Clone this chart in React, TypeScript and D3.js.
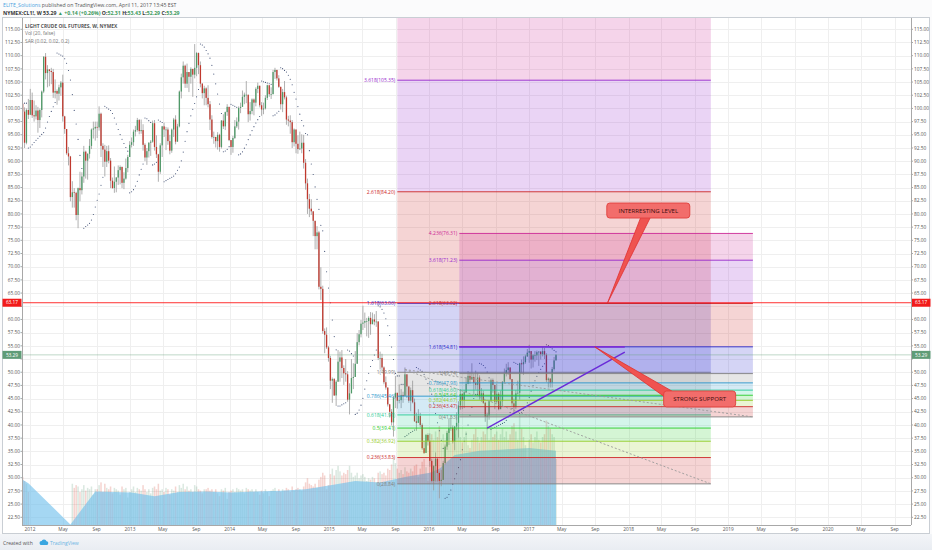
import React from 'react'
import * as d3 from 'd3'

// weekly bars of NYMEX:CL1!, first bar = week of 2011-12-05
const firstWeek = '2011-12-05'
const firstOpen = 100.9

const weeklyClose = [
  99.4, 93.5, 99.7, 98.8,
  // 2012
  101.6, 98.7, 98.5, 99.6, 97.8, 99.7, 103.2, 109.8, 106.7, 107.4, 107.1, 106.9, 103.0,
  103.3, 102.8, 104.0, 104.9, 98.5, 96.1, 91.5, 90.9, 83.2, 84.1, 84.0, 79.8, 84.9,
  84.5, 87.1, 91.8, 90.1, 91.4, 92.9, 96.0, 96.2, 96.5, 96.4, 99.0, 92.9, 92.2,
  89.9, 91.9, 90.1, 86.3, 84.9, 86.1, 86.9, 88.3, 88.9, 85.9, 86.7, 88.7, 90.8, 93.1,
  // 2013
  93.6, 95.6, 95.9, 97.8, 95.7, 95.9, 93.1, 90.7, 91.9, 93.5, 93.7, 97.2,
  92.7, 91.3, 88.0, 93.0, 96.6, 96.0, 96.0, 93.8, 92.0, 96.0, 97.9, 93.7, 96.6,
  103.2, 105.9, 108.1, 104.7, 106.9, 106.0, 107.5, 106.4, 107.7, 110.5, 108.2, 104.7, 102.9, 103.8,
  102.0, 100.8, 97.9, 94.6, 94.6, 93.8, 95.0, 92.7, 97.7, 96.6, 99.3, 100.3, 94.0,
  // 2014
  92.7, 94.4, 96.6, 97.5, 100.1, 100.3, 102.2, 102.6, 102.6, 98.9, 99.5, 101.7, 101.1,
  103.7, 104.3, 100.6, 99.8, 100.0, 102.0, 104.4, 102.7, 102.7, 106.9, 107.3, 105.7, 104.1,
  100.8, 103.1, 102.1, 97.9, 97.7, 97.4, 93.6, 96.0, 93.3, 92.3, 92.4, 93.5, 89.7,
  85.8, 82.8, 81.0, 80.5, 78.7, 75.8, 76.5, 66.2, 65.8, 57.8, 57.1, 54.7, 52.7,
  // 2015
  48.4, 48.7, 45.6, 48.2, 52.0, 52.8, 50.8, 49.8, 49.6, 44.8, 46.0, 48.9, 49.1,
  51.6, 55.7, 57.2, 59.2, 59.4, 59.7, 59.7, 60.3, 59.1, 60.0, 59.6, 59.6, 52.7,
  52.7, 50.9, 48.1, 47.1, 43.9, 42.5, 40.5, 45.2, 46.1, 44.6, 44.7, 45.7, 45.5,
  49.6, 47.3, 44.6, 46.6, 44.3, 40.7, 40.4, 41.7, 40.0, 35.6, 34.7, 38.1, 37.0,
  // 2016
  33.2, 29.4, 32.2, 33.6, 30.9, 29.4, 29.6, 32.8, 35.9, 38.5, 39.4, 39.5, 36.8,
  39.7, 40.4, 43.7, 45.9, 44.7, 46.2, 47.8, 49.3, 48.6, 49.1, 48.0, 47.6, 49.0,
  45.4, 46.0, 44.2, 41.6, 41.8, 44.5, 48.5, 47.6, 44.4, 45.9, 43.0, 44.5, 48.2,
  49.8, 50.4, 50.9, 48.7, 44.1, 43.4, 46.0, 46.1, 51.7, 51.5, 51.9, 53.0, 53.7,
  // 2017
  54.0, 52.4, 53.2, 53.2, 53.8, 53.9, 53.4, 54.0, 53.3, 48.5, 48.8, 48.0, 50.6, 52.24, 53.29,
]

const weeklyHigh = [
  101.0, 100.2, 100.0, 101.8,
  103.7, 103.0, 101.5, 100.6, 100.3, 100.0, 103.4, 109.9, 110.5, 108.2, 107.4, 107.7, 107.5,
  105.5, 103.6, 104.5, 105.2, 106.4, 98.6, 96.1, 92.7, 91.0, 86.2, 84.9, 84.2, 85.0,
  88.0, 87.9, 92.9, 92.0, 91.5, 94.2, 96.2, 97.5, 97.5, 97.5, 100.4, 99.2, 93.4,
  93.1, 92.9, 93.0, 90.6, 86.9, 89.0, 87.0, 89.2, 89.2, 89.0, 87.9, 90.5, 91.2, 93.8,
  94.5, 96.0, 96.7, 98.2, 98.0, 97.9, 97.0, 93.4, 92.5, 93.6, 94.0, 97.7,
  97.8, 94.9, 91.4, 93.4, 96.7, 97.3, 96.5, 96.4, 95.0, 96.2, 98.2, 98.7, 97.1,
  103.4, 106.6, 108.9, 108.3, 108.5, 106.9, 107.8, 107.0, 112.2, 110.7, 110.6, 108.9, 104.8, 104.3,
  104.0, 104.4, 101.4, 98.7, 95.6, 94.6, 95.5, 95.2, 97.8, 98.9, 99.4, 100.8, 100.3,
  94.0, 94.8, 97.8, 98.3, 100.4, 101.1, 103.4, 103.0, 105.2, 102.1, 101.2, 101.9, 101.9,
  104.0, 104.9, 104.3, 101.2, 101.1, 102.5, 104.5, 104.4, 104.0, 107.3, 107.7, 107.3, 106.3,
  104.1, 103.7, 105.2, 102.4, 98.6, 98.7, 97.8, 96.2, 96.0, 94.9, 95.6, 95.1, 95.0,
  90.4, 86.7, 83.8, 82.8, 80.0, 78.5, 77.7, 76.8, 69.9, 66.4, 58.3, 58.5, 55.0,
  53.1, 49.0, 48.9, 48.5, 54.2, 53.9, 54.2, 51.3, 52.5, 50.2, 47.9, 52.5, 51.7,
  54.0, 57.4, 58.0, 59.9, 62.6, 61.3, 60.3, 60.6, 61.4, 61.3, 61.0, 61.6, 59.7,
  53.9, 53.5, 51.1, 49.2, 46.9, 44.0, 43.0, 45.5, 49.3, 46.1, 47.7, 46.8, 46.3,
  50.9, 49.4, 47.3, 47.1, 48.4, 45.0, 42.3, 43.0, 42.3, 40.3, 37.0, 38.3, 38.4,
  38.4, 33.6, 32.4, 34.8, 33.7, 31.2, 31.5, 33.2, 36.3, 38.9, 41.2, 41.6, 39.9,
  39.8, 42.4, 44.5, 46.8, 46.0, 46.6, 49.0, 50.2, 50.0, 51.7, 49.7, 50.3, 49.9,
  49.4, 47.0, 46.5, 44.4, 42.3, 44.7, 48.8, 48.8, 47.6, 47.8, 46.2, 46.5, 48.3,
  50.7, 51.6, 51.9, 50.9, 48.6, 45.0, 46.6, 48.4, 51.8, 52.4, 53.0, 53.3, 54.4,
  55.2, 53.5, 53.4, 54.0, 54.1, 54.0, 54.0, 54.9, 54.6, 53.6, 49.0, 48.8, 51.0, 52.9, 53.43,
]

const weeklyLow = [
  97.5, 92.5, 93.2, 98.0,
  98.8, 98.2, 97.5, 97.9, 95.4, 96.3, 98.3, 102.9, 105.5, 104.0, 104.2, 104.6, 102.0,
  101.9, 100.7, 101.5, 102.4, 97.5, 95.2, 91.2, 89.2, 82.4, 81.2, 81.2, 78.8, 77.3,
  82.4, 83.7, 85.9, 86.7, 86.5, 90.5, 92.3, 94.3, 93.9, 94.4, 95.8, 90.8, 88.9,
  87.1, 88.9, 89.6, 84.9, 84.8, 84.0, 84.1, 85.5, 85.6, 84.9, 84.7, 86.5, 87.9, 90.8,
  92.6, 92.9, 94.7, 95.6, 95.1, 95.2, 92.0, 90.0, 89.3, 90.7, 91.0, 93.5,
  92.0, 90.6, 86.1, 87.6, 90.8, 94.6, 92.1, 93.1, 91.3, 91.6, 94.6, 93.2, 93.8,
  96.4, 101.9, 104.7, 103.9, 103.9, 103.1, 104.7, 102.2, 105.7, 106.1, 106.5, 104.0, 101.9, 100.6,
  100.6, 100.2, 95.9, 94.3, 93.3, 92.6, 92.2, 91.8, 92.4, 96.1, 95.9, 98.6, 93.8,
  91.2, 91.6, 94.2, 96.3, 96.0, 99.1, 100.6, 100.8, 101.0, 97.4, 97.7, 98.9, 98.7,
  100.4, 102.9, 100.2, 98.6, 98.9, 99.8, 101.6, 102.2, 101.8, 103.9, 105.6, 105.3, 103.9,
  99.8, 99.3, 101.7, 96.9, 96.6, 95.2, 92.5, 92.8, 91.5, 91.4, 92.1, 91.5, 88.6,
  84.6, 80.0, 79.4, 79.8, 75.8, 73.3, 73.3, 65.7, 63.7, 57.3, 53.6, 54.4, 52.0,
  46.8, 44.2, 45.5, 43.6, 48.4, 48.2, 48.9, 47.6, 48.2, 44.4, 42.0, 46.9, 46.8,
  49.6, 51.6, 55.1, 56.6, 58.0, 58.4, 56.8, 56.5, 57.1, 59.3, 58.9, 58.6, 52.3,
  50.5, 50.3, 47.7, 46.7, 43.5, 41.4, 39.9, 37.8, 43.2, 43.1, 44.1, 43.2, 44.2,
  45.6, 45.1, 44.2, 42.6, 44.1, 40.6, 38.9, 40.4, 39.6, 35.3, 34.5, 35.4, 36.1,
  32.1, 29.1, 27.6, 29.3, 29.3, 26.1, 28.4, 30.6, 32.5, 35.3, 36.2, 38.9, 36.5,
  35.2, 39.0, 37.6, 42.9, 43.0, 43.2, 46.2, 47.7, 47.8, 48.6, 45.8, 46.7, 45.8,
  44.8, 44.4, 44.0, 40.6, 39.2, 41.0, 44.4, 46.1, 43.0, 44.1, 42.8, 43.5, 43.6,
  47.9, 49.2, 49.5, 48.5, 43.6, 42.2, 43.0, 45.8, 44.8, 49.9, 49.5, 51.6, 52.9,
  51.8, 50.7, 50.9, 52.0, 52.3, 51.2, 52.4, 53.0, 52.5, 48.1, 47.1, 47.1, 47.1, 50.3, 52.29,
]

// weekly volume, millions of contracts (no data Jan-May 2012)
const weeklyVolume = [
  1.75, 1.6, 1.5, 1.2,
  0, 0, 0, 0, 0, 0, 0, 0, 0, 0, 0, 0, 0, 0, 0, 0, 0, 0, 0, 0, 0, 0,
  1.5, 1.35, 1.45, 1.4, 1.2, 1.3, 1.45, 1.25, 1.35, 1.3, 1.4, 1.1, 1.3, 1.3, 1.45, 1.55, 1.2,
  1.5, 1.35, 1.3, 1.4, 1.15, 1.35, 1.3, 1.25, 1.1, 1.4, 1.3, 1.35, 1.0, 1.2,
  1.3, 1.4, 1.2, 1.35, 1.3, 1.25, 1.45, 1.3, 1.2, 1.3, 1.15, 1.35, 1.4, 1.3, 1.5, 1.25, 1.3,
  1.2, 1.35, 1.3, 1.1, 1.3, 1.25, 1.4, 1.2, 1.45, 1.35, 1.5, 1.3, 1.4, 1.25, 1.3, 1.2, 1.45,
  1.4, 1.3, 1.25, 1.15, 1.3, 1.3, 1.35, 1.25, 1.3, 1.2, 1.3, 1.15, 1.05, 1.3, 1.25, 1.35, 0.95, 1.2,
  1.25, 1.3, 1.2, 1.35, 1.3, 1.25, 1.3, 1.15, 1.35, 1.3, 1.25, 1.3, 1.2, 1.3, 1.2, 1.1, 1.25,
  1.15, 1.3, 1.2, 1.05, 1.25, 1.3, 1.35, 1.2, 1.3, 1.2, 1.3, 1.25, 1.35, 1.3, 1.2, 1.4, 1.25,
  1.3, 1.35, 1.3, 1.25, 1.4, 1.55, 1.7, 1.5, 1.45, 1.4, 1.5, 1.35, 1.65, 1.75, 1.9, 1.8, 1.3, 1.45,
  1.85, 2.05, 1.8, 2.0, 2.15, 1.95, 1.8, 1.9, 1.85, 2.0, 2.15, 1.9, 1.75, 1.8, 1.9, 1.7, 1.8,
  1.85, 1.75, 1.6, 1.7, 1.65, 1.75, 1.7, 1.55, 1.9, 1.95, 1.85, 1.9, 1.8, 2.05, 2.0, 2.2, 2.45, 2.25,
  2.05, 1.9, 2.0, 1.85, 2.1, 1.95, 1.9, 2.05, 1.95, 2.15, 2.2, 1.75, 2.05, 2.3, 2.4, 2.1, 1.6,
  2.9, 3.3, 3.1, 3.4, 3.2, 3.6, 3.0, 3.3, 3.1, 3.2, 3.4, 3.0, 3.1, 3.3, 3.5, 3.7, 3.2,
  3.0, 3.2, 3.4, 2.9, 2.8, 3.1, 3.3, 3.5, 3.2, 3.0, 3.2, 3.4, 3.3, 3.5, 3.1, 3.6, 3.2, 3.3,
  3.4, 3.1, 3.3, 3.5, 3.2, 3.4, 3.1, 3.3, 3.6, 3.7, 3.4, 3.1, 4.0, 3.5, 3.2, 2.9, 2.4,
  3.1, 3.3, 3.0, 3.2, 3.4, 3.1, 3.0, 3.2, 3.3, 3.8, 3.6, 3.5, 3.3, 3.2, 2.4,
]

// shaded volume average as drawn on the chart
const volMaDates = [
  '2011-12-05', '2011-12-26', '2012-05-28', '2012-08-27', '2012-11-05', '2013-01-07', '2013-04-01',
  '2013-07-01', '2013-10-07', '2014-01-06', '2014-04-07', '2014-07-07', '2014-10-06', '2015-01-05',
  '2015-04-06', '2015-07-06', '2015-10-05', '2016-01-04', '2016-02-08', '2016-04-04', '2016-07-04',
  '2016-10-03', '2017-01-02', '2017-04-10',
]
const volMaValues = [
  1.65, 1.52, 0.02, 1.22, 1.2, 1.18, 1.05, 1.2, 1.22, 1.18, 1.22, 1.25, 1.3, 1.45,
  1.6, 1.55, 1.75, 1.9, 2.05, 2.55, 2.7, 2.75, 2.8, 2.7,
]

const fibLevels = [0, 0.236, 0.382, 0.5, 0.618, 0.786, 1, 1.618, 2.618, 3.618, 4.236]
const fibColors = ['#808080', '#cc2828', '#95cc28', '#28cc28', '#28cc95', '#2895cc', '#808080', '#2828cc', '#cc2828', '#9528cc', '#cc2895']

const fibTools = [
  { from: '2015-09-07', to: '2018-10-29', low: 28.838, high: 49.986 },
  { from: '2016-04-21', to: '2019-04-01', low: 41.53, high: 49.74 },
]

const redLevel = 63.17
const lastPrice = 53.29

const trendLines = [
  { d1: '2015-10-05', p1: 50.5, d2: '2019-04-01', p2: 41.53, color: '#9a9a9a', width: 0.9, dash: '2,2' },
  { d1: '2015-10-05', p1: 50.5, d2: '2018-10-29', p2: 28.84, color: '#9a9a9a', width: 0.9, dash: '2,2' },
  { d1: '2016-08-01', p1: 39.4, d2: '2017-12-18', p2: 53.8, color: '#6a2bd8', width: 1.4, dash: '' },
  { d1: '2016-04-21', p1: 54.81, d2: '2017-12-18', p2: 54.81, color: '#7a2ed6', width: 1.8, dash: '' },
]

const callouts = [
  { text: 'INTERRESTING LEVEL', date: '2018-03-14', price: 80.65, w: 83, h: 15, tipDate: '2017-10-16', tipPrice: 63.17, bx: -2, by: 5 },
  { text: 'STRONG SUPPORT', date: '2018-09-18', price: 44.93, w: 72, h: 16, tipDate: '2017-08-30', tipPrice: 54.81, bx: -30, by: -4 },
]

const tickYears = [2012, 2013, 2014, 2015, 2016, 2017, 2018, 2019, 2020]
const tickMonths = [0, 4, 8]
const monthNames = ['Jan', 'May', 'Sep']

const font = "'Open Sans', 'Liberation Sans', sans-serif"
const plot = { left: 22, right: 911, top: 18, bottom: 525 }

function parabolicSar(high: number[], low: number[], step = 0.02, max = 0.2) {
  const out: (number | null)[] = [null]
  let up = true
  let af = step
  let ep = high[0]
  let sar = low[0]
  for (let i = 1; i < high.length; i++) {
    sar = sar + af * (ep - sar)
    if (up) {
      sar = Math.min(sar, low[i - 1], i > 1 ? low[i - 2] : low[i - 1])
      if (low[i] < sar) {
        up = false; sar = ep; ep = low[i]; af = step
      } else if (high[i] > ep) {
        ep = high[i]; af = Math.min(af + step, max)
      }
    } else {
      sar = Math.max(sar, high[i - 1], i > 1 ? high[i - 2] : high[i - 1])
      if (high[i] > sar) {
        up = true; sar = ep; ep = high[i]; af = step
      } else if (low[i] < ep) {
        ep = low[i]; af = Math.min(af + step, max)
      }
    }
    out.push(sar)
  }
  return out
}

export default function App() {
  const parse = d3.timeParse('%Y-%m-%d')
  const start = parse(firstWeek) as Date
  const x = d3.scaleTime().domain([parse('2012-01-01') as Date, parse('2020-01-01') as Date]).range([30, 828])
  const y = d3.scaleLinear().domain([22.5, 115]).range([517.3, 29.3])
  const yVol = d3.scaleLinear().domain([0, 1]).range([plot.bottom, plot.bottom - 27.5])
  const fmt = d3.format('.2f')

  const n = Math.min(weeklyClose.length, weeklyHigh.length, weeklyLow.length)
  const bars = d3.range(n).map((i) => {
    const c = weeklyClose[i]
    const o = i === 0 ? firstOpen : weeklyClose[i - 1]
    return {
      date: d3.timeDay.offset(start, 7 * i),
      o,
      c,
      h: Math.max(weeklyHigh[i], o, c),
      l: Math.min(weeklyLow[i], o, c),
      v: weeklyVolume[i] || 0,
    }
  })
  const sar = parabolicSar(bars.map((b) => b.h), bars.map((b) => b.l))

  const volArea = d3.area<number>()
    .x((_, i) => x(parse(volMaDates[i]) as Date))
    .y0(plot.bottom)
    .y1((v) => yVol(v))

  const tags = [{ p: redLevel, col: '#f21b1b' }, { p: lastPrice, col: '#5f9c77' }]
  const priceTicks = d3.range(22.5, 115.01, 2.5)
  // axis labels hidden behind the price tags
  const axisTicks = priceTicks.filter((p) => tags.every((t) => Math.abs(y(p) - y(t.p)) > 7))
  const timeTicks = tickYears.flatMap((yr) => tickMonths.map((m, k) => ({
    date: new Date(yr, m, 1),
    label: m === 0 ? String(yr) : monthNames[k],
  }))).filter((t) => x(t.date) < plot.right - 5)

  const upColor = '#4f9a68'
  const downColor = '#c0392e'

  return (
    <svg width={932} height={550} style={{ position: 'absolute', left: 0, top: 0 }} fontFamily={font}>
      <defs>
        <clipPath id="plotClip">
          <rect x={plot.left} y={plot.top} width={plot.right - plot.left} height={plot.bottom - plot.top} />
        </clipPath>
        <linearGradient id="footBg" x1="0" x2="0" y1="0" y2="1">
          <stop offset="0" stopColor="#f3f5f8" />
          <stop offset="1" stopColor="#e9edf2" />
        </linearGradient>
      </defs>
      <rect width={932} height={550} fill="#fbfbfc" />
      <rect x={0} y={534} width={932} height={16} fill="url(#footBg)" />

      {/* header */}
      <text x={3} y={7} fontSize={5.2}>
        <tspan fill="#4aa3df">ELITE_Solutions</tspan>
        <tspan fill="#555"> published on TradingView.com, April 11, 2017 13:45 EST</tspan>
      </text>
      <text x={3} y={15} fontSize={5.2} fontWeight={700} fill="#333">
        <tspan>NYMEX:CL1!, W 53.29 </tspan>
        <tspan fill="#3d9a5c">▲ +0.14 (+0.26%) </tspan>
        <tspan>O:</tspan><tspan fill="#3d9a5c">52.31 </tspan>
        <tspan>H:</tspan><tspan fill="#3d9a5c">53.43 </tspan>
        <tspan>L:</tspan><tspan fill="#3d9a5c">52.29 </tspan>
        <tspan>C:</tspan><tspan fill="#3d9a5c">53.29</tspan>
      </text>

      {/* chart panel */}
      <rect x={2.5} y={17.5} width={927} height={516} fill="#ffffff" stroke="#c9ced4" />

      {/* grid */}
      <g stroke="#efefef" strokeWidth={1}>
        {priceTicks.map((p) => (
          <line key={`h${p}`} x1={plot.left} x2={plot.right} y1={Math.round(y(p)) + 0.5} y2={Math.round(y(p)) + 0.5} />
        ))}
        {timeTicks.map((t) => (
          <line key={`v${t.label}${+t.date}`} x1={Math.round(x(t.date)) + 0.5} x2={Math.round(x(t.date)) + 0.5} y1={plot.top} y2={plot.bottom} />
        ))}
      </g>

      <g clipPath="url(#plotClip)">
        {/* volume */}
        {bars.map((b, i) => b.v > 0 ? (
          <rect key={`v${i}`} x={x(b.date) - 0.75} width={1.5} y={yVol(b.v)} height={plot.bottom - yVol(b.v)}
            fill={b.c >= b.o ? '#6ba583' : '#d75442'} fillOpacity={0.25} />
        ) : null)}
        <path d={volArea(volMaValues) || ''} fill="rgb(110,190,235)" fillOpacity={0.62} />

        {/* candles */}
        {bars.map((b, i) => {
          const cx = x(b.date)
          const top = y(Math.max(b.o, b.c))
          const bot = y(Math.min(b.o, b.c))
          const col = b.c >= b.o ? upColor : downColor
          return (
            <g key={`c${i}`}>
              <line x1={cx} x2={cx} y1={y(b.h)} y2={y(b.l)} stroke="#9c9c9c" strokeWidth={0.8} />
              <rect x={cx - 0.65} width={1.3} y={top} height={Math.max(0.7, bot - top)} fill={col} />
            </g>
          )
        })}

        {/* parabolic SAR */}
        {bars.map((b, i) => sar[i] == null ? null : (
          <circle key={`s${i}`} cx={x(b.date)} cy={y(sar[i] as number)} r={0.55} fill="#3a4a70" />
        ))}

        {/* fibonacci tools */}
        {fibTools.map((f, k) => {
          const x1 = x(parse(f.from) as Date)
          const x2 = x(parse(f.to) as Date)
          const price = (lv: number) => f.low + lv * (f.high - f.low)
          return (
            <g key={`fib${k}`}>
              {fibLevels.slice(1).map((lv, j) => (
                <rect key={`b${j}`} x={x1} width={x2 - x1} y={y(price(lv))}
                  height={y(price(fibLevels[j])) - y(price(lv))} fill={fibColors[j + 1]} fillOpacity={0.2} />
              ))}
              {fibLevels.map((lv, j) => (
                <line key={`l${j}`} x1={x1} x2={x2} y1={y(price(lv))} y2={y(price(lv))} stroke={fibColors[j]} strokeWidth={0.9} />
              ))}
            </g>
          )
        })}

        {/* horizontal levels */}
        <line x1={plot.left} x2={plot.right} y1={y(lastPrice)} y2={y(lastPrice)} stroke="#6ba583" strokeOpacity={0.55} strokeWidth={0.8} />
        <line x1={plot.left} x2={plot.right} y1={y(redLevel)} y2={y(redLevel)} stroke="#ff1a1a" strokeWidth={0.9} />

        {/* trend lines */}
        {trendLines.map((t, i) => (
          <line key={`t${i}`} x1={x(parse(t.d1) as Date)} y1={y(t.p1)} x2={x(parse(t.d2) as Date)} y2={y(t.p2)}
            stroke={t.color} strokeWidth={t.width} strokeDasharray={t.dash || undefined} />
        ))}

        {/* fib labels */}
        {fibTools.map((f, k) => {
          const x1 = x(parse(f.from) as Date)
          return fibLevels.map((lv, j) => {
            const p = f.low + lv * (f.high - f.low)
            return (
              <text key={`fl${k}-${j}`} x={x1 - 2} y={y(p)} dy="0.35em" textAnchor="end" fontSize={5} fill={fibColors[j]}>
                {`${lv}(${fmt(p)})`}
              </text>
            )
          })
        })}

        {/* callouts */}
        {callouts.map((c, i) => {
          const cx = x(parse(c.date) as Date)
          const cy = y(c.price)
          const tx = x(parse(c.tipDate) as Date)
          const ty = y(c.tipPrice)
          const bx = cx + c.bx
          const by = cy + c.by
          const dx = tx - bx
          const dy = ty - by
          const len = Math.hypot(dx, dy)
          const px = (-dy / len) * 4.5
          const py = (dx / len) * 4.5
          return (
            <g key={`co${i}`}>
              <path d={`M${bx + px},${by + py}L${tx},${ty}L${bx - px},${by - py}Z`} fill="#ef5350" stroke="#e02f2f" strokeWidth={0.8} />
              <rect x={cx - c.w / 2} y={cy - c.h / 2} width={c.w} height={c.h} rx={3} fill="#f26d6b" stroke="#e0403c" strokeWidth={0.9} />
              <text x={cx} y={cy} dy="0.35em" textAnchor="middle" fontSize={6.1} fill="#3a0c0c">{c.text}</text>
            </g>
          )
        })}
      </g>

      {/* legend */}
      <text x={25} y={27.5} fontSize={4.9} fontWeight={700} fill="#555">LIGHT CRUDE OIL FUTURES, W, NYMEX</text>
      <text x={25} y={35} fontSize={4.9} fill="#777">Vol (20, false)</text>
      <text x={25} y={42.5} fontSize={4.9} fill="#777">SAR (0.02, 0.02, 0.2)</text>

      {/* axes */}
      <line x1={plot.left + 0.5} x2={plot.left + 0.5} y1={plot.top} y2={plot.bottom} stroke="#a8a8a8" />
      <line x1={plot.right + 0.5} x2={plot.right + 0.5} y1={plot.top} y2={plot.bottom} stroke="#a8a8a8" />
      <line x1={plot.left} x2={plot.right} y1={plot.bottom + 0.5} y2={plot.bottom + 0.5} stroke="#a8a8a8" />
      {priceTicks.map((p) => (
        <g key={`pm${p}`} stroke="#a8a8a8">
          <line x1={plot.left - 1.5} x2={plot.left} y1={y(p)} y2={y(p)} />
          <line x1={plot.right} x2={plot.right + 2} y1={y(p)} y2={y(p)} />
        </g>
      ))}
      {axisTicks.map((p) => (
        <g key={`pt${p}`} fontSize={4.8} fill="#555">
          <text x={plot.left - 2} y={y(p)} dy="0.35em" textAnchor="end">{fmt(p)}</text>
          <text x={plot.right + 3} y={y(p)} dy="0.35em">{fmt(p)}</text>
        </g>
      ))}
      {timeTicks.map((t) => (
        <text key={`tt${+t.date}`} x={x(t.date)} y={531} textAnchor="middle" fontSize={4.8} fill="#555">{t.label}</text>
      ))}

      {/* axis price tags */}
      {tags.map((tag) => (
        <g key={`tag${tag.p}`}>
          <rect x={2.5} y={y(tag.p) - 4} width={19} height={8} fill={tag.col} />
          <rect x={plot.right + 1} y={y(tag.p) - 4} width={18.5} height={8} fill={tag.col} />
          <text x={12} y={y(tag.p)} dy="0.35em" textAnchor="middle" fontSize={4.8} fill="#fff">{fmt(tag.p)}</text>
          <text x={plot.right + 10.2} y={y(tag.p)} dy="0.35em" textAnchor="middle" fontSize={4.8} fill="#fff">{fmt(tag.p)}</text>
        </g>
      ))}

      {/* footer */}
      <text x={3} y={545} fontSize={5} fill="#555">Created with</text>
      <g transform="translate(39,539.5)" fill="#3aa6e0">
        <circle cx={2.5} cy={3.5} r={2} />
        <circle cx={5} cy={2.5} r={2.5} />
        <circle cx={7.5} cy={3.6} r={1.8} />
        <rect x={1.5} y={3.5} width={7} height={2} />
      </g>
      <text x={50} y={545} fontSize={5} fill="#6ab4e3">TradingView</text>
    </svg>
  )
}
